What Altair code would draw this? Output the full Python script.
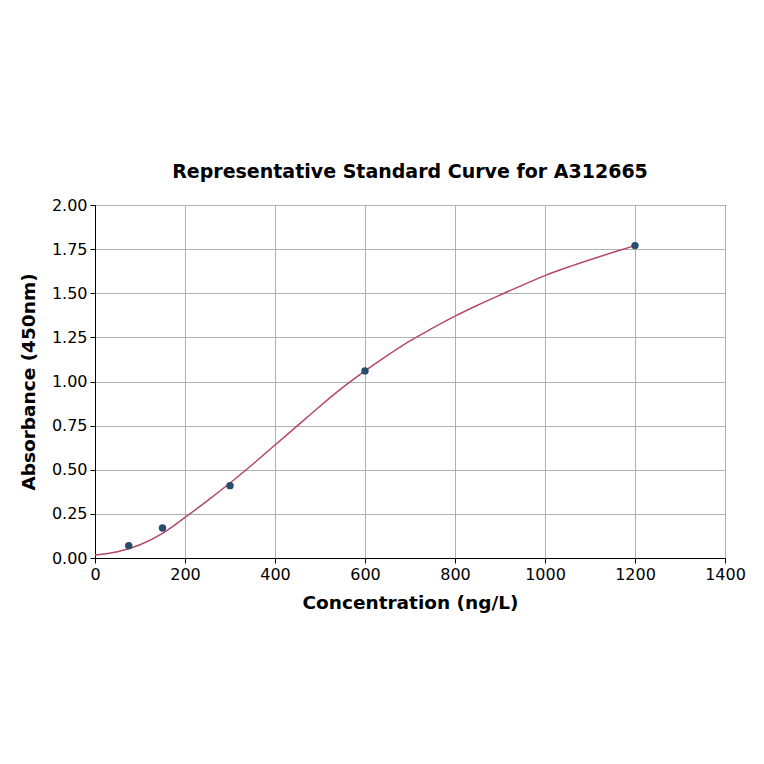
import altair as alt
import pandas as pd

# Measured standards
conc = [75, 150, 300, 600, 1200]
absorb = [0.07, 0.17, 0.41, 1.06, 1.77]

# Fitted curve
curve_x = [0, 50, 100, 150, 200, 250, 300, 350, 400, 450, 500, 550, 600,
           650, 700, 750, 800, 850, 900, 950, 1000, 1050, 1100, 1150, 1200]
curve_y = [0.017, 0.035, 0.075, 0.14, 0.23, 0.325, 0.425, 0.53, 0.64, 0.75,
           0.86, 0.965, 1.06, 1.148, 1.23, 1.302, 1.37, 1.432, 1.49, 1.546,
           1.60, 1.647, 1.69, 1.731, 1.77]

pts = pd.DataFrame({"x": conc, "y": absorb})
crv = pd.DataFrame({"x": curve_x, "y": curve_y})

font = "DejaVu Sans"
xscale = alt.Scale(domain=[0, 1400], nice=False, zero=False)
yscale = alt.Scale(domain=[0, 2.0], nice=False, zero=False)

common = dict(labelFont=font, labelFontSize=16, labelColor="black",
              titleFont=font, titleFontSize=18.5, titleFontWeight="bold", titleColor="black",
              tickColor="black", tickSize=5, domainColor="black", gridColor="#b0b0b0",
              labelPadding=3, labelFlush=False)

xaxis = alt.Axis(title="Concentration (ng/L)", values=list(range(0, 1401, 200)),
                 format="d", titlePadding=11, **common)
yaxis = alt.Axis(title="Absorbance (450nm)", values=[0, 0.25, 0.5, 0.75, 1.0, 1.25, 1.5, 1.75, 2.0],
                 format=".2f", titlePadding=13, **common)

line = alt.Chart(crv).mark_line(color="#b5476b", strokeWidth=1.5, interpolate="monotone").encode(
    x=alt.X("x:Q", scale=xscale, axis=xaxis),
    y=alt.Y("y:Q", scale=yscale, axis=yaxis),
)
points = alt.Chart(pts).mark_circle(color="#2a4a6e", opacity=1, size=55).encode(
    x=alt.X("x:Q", scale=xscale),
    y=alt.Y("y:Q", scale=yscale),
)

chart = alt.layer(line, points).properties(
    width=630, height=353,
    title=alt.TitleParams("Representative Standard Curve for A312665", font=font,
                          fontSize=19, fontWeight="bold", color="black", offset=15),
    autosize=alt.AutoSizeParams(type="none"),
    padding={"left": 87, "top": 197, "right": 31, "bottom": 198},
).configure_view(stroke="black", strokeWidth=1)

chart.save("out.html", embed_options={"renderer": "svg", "actions": False})
